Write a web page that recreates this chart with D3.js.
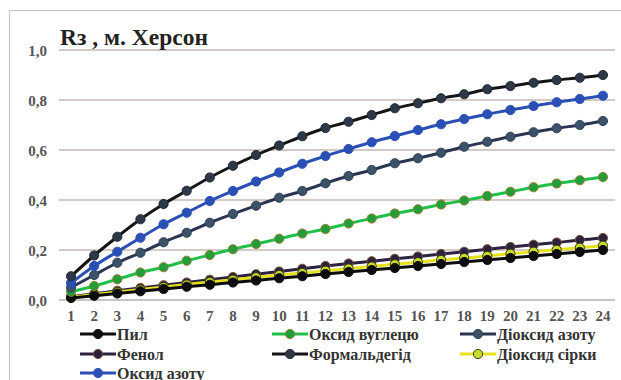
<!DOCTYPE html>
<html><head><meta charset="utf-8">
<script src="https://cdn.jsdelivr.net/npm/d3@7"></script>
</head><body style="margin:0">
<svg id="c" width="621" height="380" style="display:block"></svg>
<script>
const categories = d3.range(1, 25).map(String);
const yTicks = [0, 0.2, 0.4, 0.6, 0.8, 1.0];
const seriesNames = ["Пил","Оксид вуглецю","Діоксид азоту","Фенол","Формальдегід","Діоксид сірки","Оксид азоту"];
const pyl = [0.008,0.017,0.026,0.035,0.044,0.053,0.061,0.070,0.078,0.087,0.095,0.104,0.112,0.120,0.128,0.136,0.144,0.152,0.160,0.168,0.176,0.184,0.192,0.200];
const oksydVuhletsiu = [0.033,0.056,0.083,0.110,0.131,0.157,0.180,0.203,0.224,0.245,0.266,0.284,0.306,0.326,0.346,0.363,0.382,0.398,0.416,0.433,0.451,0.466,0.479,0.492];
const dioksydAzotu = [0.05,0.100,0.149,0.189,0.231,0.269,0.309,0.344,0.377,0.409,0.436,0.467,0.496,0.520,0.547,0.567,0.589,0.613,0.633,0.653,0.671,0.687,0.700,0.716];
const fenol = [0.013,0.025,0.037,0.048,0.059,0.070,0.081,0.092,0.103,0.114,0.125,0.136,0.146,0.155,0.165,0.174,0.184,0.193,0.203,0.212,0.221,0.230,0.240,0.248];
const formaldehid = [0.095,0.178,0.253,0.323,0.384,0.437,0.49,0.537,0.58,0.618,0.655,0.688,0.713,0.740,0.767,0.787,0.807,0.823,0.843,0.856,0.869,0.880,0.889,0.900];
const dioksydSirky = [0.011,0.022,0.032,0.042,0.052,0.062,0.072,0.081,0.091,0.100,0.108,0.117,0.126,0.134,0.143,0.151,0.160,0.168,0.176,0.185,0.193,0.201,0.209,0.217];
const oksydAzotu = [0.068,0.136,0.193,0.249,0.303,0.349,0.396,0.436,0.474,0.510,0.545,0.576,0.604,0.631,0.656,0.680,0.703,0.724,0.743,0.760,0.776,0.791,0.804,0.817];

const styles = [
  {line:"#0d0d0d", fill:"#0d0d0d", stroke:"#0d0d0d"},
  {line:"#1fbf4a", fill:"#1f9e3a", stroke:"#9a7a2a"},
  {line:"#2a3552", fill:"#3b5268", stroke:"#2f4256"},
  {line:"#2b2140", fill:"#2b2140", stroke:"#7a5030"},
  {line:"#151515", fill:"#2c3848", stroke:"#222a36"},
  {line:"#e6e21e", fill:"#c6de2a", stroke:"#3a3a10"},
  {line:"#2a4fb5", fill:"#2a4fb5", stroke:"#2a4fb5"}
];
const data = [pyl, oksydVuhletsiu, dioksydAzotu, fenol, formaldehid, dioksydSirky, oksydAzotu];
const drawOrder = [3,5,0,1,2,6,4];

const svg = d3.select("#c");
svg.append("rect").attr("x",9.5).attr("y",10.5).attr("width",800).attr("height",600)
  .attr("fill","none").attr("stroke","#c8c8c8").attr("stroke-width",1.2);

const x = d3.scaleBand().domain(categories).range([59.5, 614.5]);
const y = d3.scaleLinear().domain([0,1]).range([300, 50]);

svg.append("g").selectAll("line").data(yTicks).join("line")
  .attr("x1",59).attr("x2",615).attr("y1",d=>y(d)).attr("y2",d=>y(d))
  .attr("stroke",d=>d===0?"#b8b0ab":"#c4b8b2").attr("stroke-width",1.3);

function styleText(sel, size, color){
  sel.attr("font-family",null)
     .style("font-family",'"Liberation Serif"')
     .style("font-weight","bold").style("font-size",size+"px").attr("fill",color);
}

const yAxis = d3.axisLeft(y).tickValues(yTicks).tickSize(0).tickPadding(0)
  .tickFormat(d=>d3.format(".1f")(d).replace(".",","));
const gy = svg.append("g").attr("transform","translate(47,1)").call(yAxis);
gy.select(".domain").remove();
gy.attr("font-family",null).attr("font-size",null);
styleText(gy.selectAll("text"), 15, "#555");

const xAxis = d3.axisBottom(x).tickSize(0).tickPadding(0);
const gx = svg.append("g").attr("transform","translate(0,310)").call(xAxis);
gx.select(".domain").remove();
gx.attr("font-family",null).attr("font-size",null);
styleText(gx.selectAll("text"), 15, "#555");

styleText(svg.append("text").attr("x",60).attr("y",45).text("Rз , м. Херсон"), 23.5, "#222");

const cx = i => x(categories[i]) + x.bandwidth()/2;
const line = d3.line().x((d,i)=>cx(i)).y(d=>y(d)).curve(d3.curveMonotoneX);

drawOrder.forEach(i=>{
  const s = styles[i];
  const g = svg.append("g");
  g.append("path").datum(data[i]).attr("d",line).attr("fill","none")
    .attr("stroke",s.line).attr("stroke-width",3);
  g.selectAll("circle").data(data[i]).join("circle")
    .attr("cx",(d,j)=>cx(j)).attr("cy",d=>y(d)).attr("r",4.6)
    .attr("fill",s.fill).attr("stroke",s.stroke).attr("stroke-width",1);
});

const colX = [80, 272, 460];
const rowY = [334, 354, 373];
seriesNames.forEach((name,i)=>{
  const s = styles[i];
  const gx0 = colX[i%3], gy0 = rowY[Math.floor(i/3)];
  const g = svg.append("g").attr("transform",`translate(${gx0},${gy0})`);
  g.append("line").attr("x1",0).attr("x2",36).attr("y1",0).attr("y2",0)
    .attr("stroke",s.line).attr("stroke-width",3);
  g.append("circle").attr("cx",18).attr("cy",0).attr("r",4.6)
    .attr("fill",s.fill).attr("stroke",s.stroke).attr("stroke-width",1);
  styleText(g.append("text").attr("x",37).attr("y",5.5).text(name), 16, "#333");
});
</script>
</body></html>
